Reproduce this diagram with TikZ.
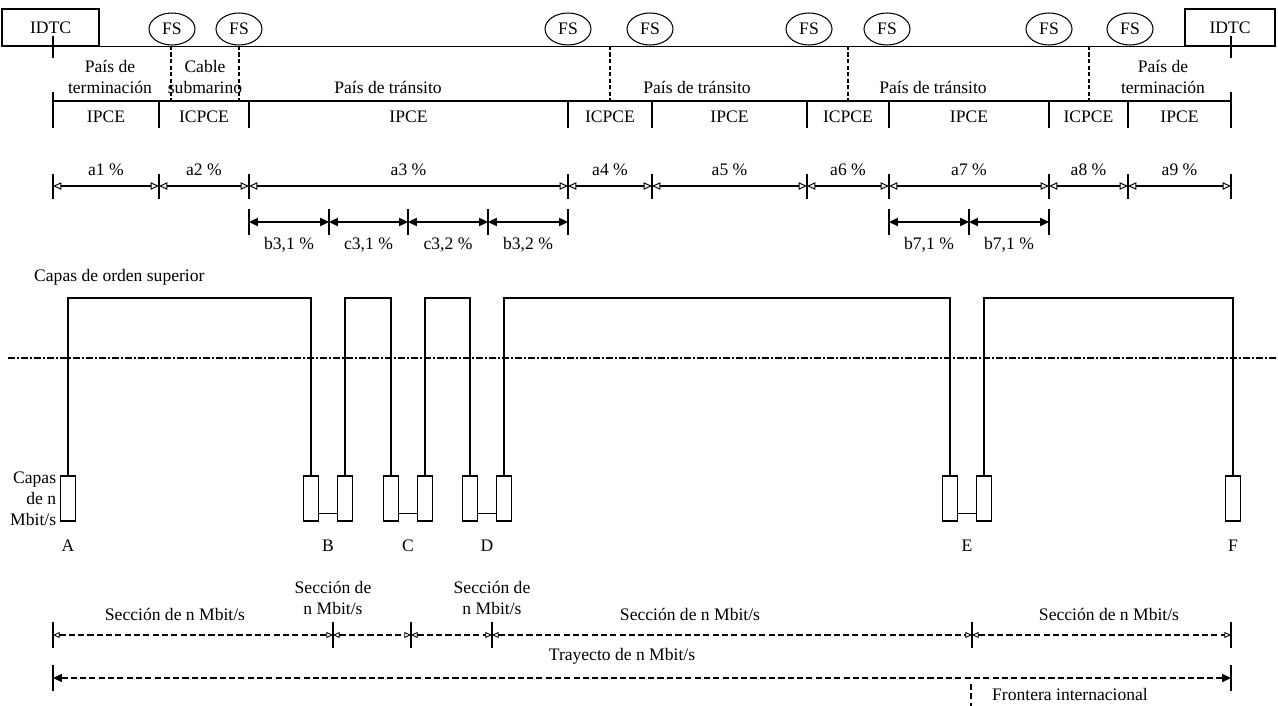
\documentclass[tikz,border=0pt]{standalone}
\usepackage{fontspec}
\setmainfont{Liberation Serif}
\usetikzlibrary{arrows.meta,positioning,shapes.geometric,calc}

\begin{document}
\begin{tikzpicture}[
    x=0.02cm, y=-0.02cm,
    font=\fontsize{10}{12}\selectfont,
    heavy/.style={line width=1.1pt},
    wire/.style={line width=0.6pt},
    box/.style={draw, line width=0.6pt, inner sep=0pt},
    fs/.style={draw, ellipse, line width=0.6pt, minimum width=0.92cm, minimum height=0.64cm, inner sep=0pt},
    card/.style={draw, line width=0.6pt, minimum width=0.3cm, minimum height=0.9cm, inner sep=0pt},
    border/.style={line width=1pt, dash pattern=on 2.5pt off 1.2pt},
    layer/.style={line width=1pt, dash pattern=on 4pt off 1.2pt on 1pt off 1.2pt},
    share/.style={heavy, {Triangle[open, length=4.8pt, width=4.2pt, line width=0.55pt]}-{Triangle[open, length=4.8pt, width=4.2pt, line width=0.55pt]}},
    part/.style={heavy, {Triangle[length=5pt, width=4.5pt]}-{Triangle[length=5pt, width=4.5pt]}},
    section/.style={line width=0.9pt, dash pattern=on 3.5pt off 1.8pt, {Triangle[open, length=3.8pt, width=3.4pt, line width=0.5pt]}-{Triangle[open, length=3.8pt, width=3.4pt, line width=0.5pt]}},
    trail/.style={line width=0.9pt, dash pattern=on 3.5pt off 1.8pt, {Triangle[length=5pt, width=4.5pt]}-{Triangle[length=5pt, width=4.5pt]}}
]
\useasboundingbox (0,0) rectangle (1278,706);

% top frame
\node[box, minimum width=1.94cm, minimum height=0.74cm] (idtcl) at (50.5,27.5) {IDTC};
\node[box, minimum width=1.8cm, minimum height=0.74cm] (idtcr) at (1230,27.5) {IDTC};
\draw[heavy] (idtcl.south east) -- (idtcr.south west);
\draw[heavy] (53,36) -- (53,58);
\draw[heavy] (1231,36) -- (1231,58);
\node[fs] (fs1) at (172,29) {FS};
\node[fs] (fs2) at (239,29) {FS};
\node[fs] (fs3) at (568,29) {FS};
\node[fs] (fs4) at (650,29) {FS};
\node[fs] (fs5) at (809,29) {FS};
\node[fs] (fs6) at (887,29) {FS};
\node[fs] (fs7) at (1049,29) {FS};
\node[fs] (fs8) at (1130,29) {FS};
\foreach \x in {171,239,610,848,1089} \draw[border] (\x,46) -- (\x,101);

\node[align=center] (term1) at (110,77) {País de\\terminación};
\node[align=center] (cable) at (205,77) {Cable\\submarino};
\node (trans1) at (388,87) {País de tránsito};
\node (trans2) at (697,87) {País de tránsito};
\node (trans3) at (933,87) {País de tránsito};
\node[align=center] (term2) at (1163,77) {País de\\terminación};

% operator row
\draw[heavy] (53,101) -- (1231,101);
\draw[heavy] (53,92) -- (53,128);
\draw[heavy] (1231,92) -- (1231,128);
\foreach \x in {159,249,568,652,807,889,1049,1128} \draw[heavy] (\x,101) -- (\x,128);
\node (op1) at (106,117) {IPCE};
\node (op2) at (204,117) {ICPCE};
\node (op3) at (408.5,117) {IPCE};
\node (op4) at (610,117) {ICPCE};
\node (op5) at (729.5,117) {IPCE};
\node (op6) at (848,117) {ICPCE};
\node (op7) at (969,117) {IPCE};
\node (op8) at (1088.5,117) {ICPCE};
\node (op9) at (1179.5,117) {IPCE};

% allocations
\foreach \x [count=\i] in {53,159,249,568,652,807,889,1049,1128,1231} {
  \coordinate (a\i) at (\x,186);
  \draw[heavy] (\x,174) -- (\x,199);
}
\draw[share] (a1) -- node[above=2pt] {a1 \%} (a2);
\draw[share] (a2) -- node[above=2pt] {a2 \%} (a3);
\draw[share] (a3) -- node[above=2pt] {a3 \%} (a4);
\draw[share] (a4) -- node[above=2pt] {a4 \%} (a5);
\draw[share] (a5) -- node[above=2pt] {a5 \%} (a6);
\draw[share] (a6) -- node[above=2pt] {a6 \%} (a7);
\draw[share] (a7) -- node[above=2pt] {a7 \%} (a8);
\draw[share] (a8) -- node[above=2pt] {a8 \%} (a9);
\draw[share] (a9) -- node[above=2pt] {a9 \%} (a10);

\foreach \x [count=\i] in {249,329,408,488,568,889,969,1049} {
  \coordinate (b\i) at (\x,222);
  \draw[heavy] (\x,209) -- (\x,235);
}
\draw[part] (b1) -- node[below=5pt] {b3,1 \%} (b2);
\draw[part] (b2) -- node[below=5pt] {c3,1 \%} (b3);
\draw[part] (b3) -- node[below=5pt] {c3,2 \%} (b4);
\draw[part] (b4) -- node[below=5pt] {b3,2 \%} (b5);
\draw[part] (b6) -- node[below=5pt] {b7,1 \%} (b7);
\draw[part] (b7) -- node[below=5pt] {b7,1 \%} (b8);

% layers
\node[anchor=west] (upper) at (28,277) {Capas de orden superior};
\coordinate (top) at (0,298);
\draw[layer] (8,358) -- (1278,358);

\node[card] (ca) at (68,498.5) {};
\node[card] (cb1) at (311,498.5) {};
\node[card] (cb2) at (345,498.5) {};
\node[card] (cc1) at (391,498.5) {};
\node[card] (cc2) at (425,498.5) {};
\node[card] (cd1) at (470,498.5) {};
\node[card] (cd2) at (504,498.5) {};
\node[card] (ce1) at (950,498.5) {};
\node[card] (ce2) at (984,498.5) {};
\node[card] (cf) at (1233,498.5) {};

\draw[wire] (ca.north) |- (cb1.north |- top) -- (cb1.north);
\draw[wire] (cb2.north) |- (cc1.north |- top) -- (cc1.north);
\draw[wire] (cc2.north) |- (cd1.north |- top) -- (cd1.north);
\draw[wire] (cd2.north) |- (ce1.north |- top) -- (ce1.north);
\draw[wire] (ce2.north) |- (cf.north |- top) -- (cf.north);

\draw[wire] ([yshift=4.5pt]cb1.south east) -- ([yshift=4.5pt]cb2.south west);
\draw[wire] ([yshift=4.5pt]cc1.south east) -- ([yshift=4.5pt]cc2.south west);
\draw[wire] ([yshift=4.5pt]cd1.south east) -- ([yshift=4.5pt]cd2.south west);
\draw[wire] ([yshift=4.5pt]ce1.south east) -- ([yshift=4.5pt]ce2.south west);

\node[left=1pt of ca, align=right, inner sep=1pt] (lower) {Capas\\de n\\Mbit/s};

\coordinate (mb) at ($(cb1.south)!0.5!(cb2.south)$);
\coordinate (mc) at ($(cc1.south)!0.5!(cc2.south)$);
\coordinate (md) at ($(cd1.south)!0.5!(cd2.south)$);
\coordinate (me) at ($(ce1.south)!0.5!(ce2.south)$);
\node[below=7pt of ca] (la) {A};
\node[below=7pt of mb] (lb) {B};
\node[below=7pt of mc] (lc) {C};
\node[below=7pt of md] (ld) {D};
\node[below=7pt of me] (le) {E};
\node[below=7pt of cf] (lf) {F};

% sections and path
\foreach \x [count=\i] in {53,333,411,492,972,1231} {
  \coordinate (s\i) at (\x,635);
  \draw[heavy] (\x,622) -- (\x,648);
}
\draw[section] (s1) -- (s2);
\draw[section] (s2) -- (s3);
\draw[section] (s3) -- (s4);
\draw[section] (s4) -- (s5);
\draw[section] (s5) -- (s6);
\node (sec1) at (175,614) {Sección de n Mbit/s};
\node[align=center] (sec2) at (333,598) {Sección de\\n Mbit/s};
\node[align=center] (sec3) at (492,598) {Sección de\\n Mbit/s};
\node (sec4) at (690,614) {Sección de n Mbit/s};
\node (sec5) at (1109,614) {Sección de n Mbit/s};

\coordinate (t1) at (53,678);
\coordinate (t2) at (1231,678);
\draw[heavy] (53,665) -- (53,691);
\draw[heavy] (1231,665) -- (1231,691);
\draw[trail] (t1) -- (t2);
\node (tray) at (622,656) {Trayecto de n Mbit/s};

\draw[line width=0.9pt, dash pattern=on 3.5pt off 1.8pt] (971,684) -- (971,706);
\node[anchor=west] (front) at (986,694) {Frontera internacional};
\end{tikzpicture}
\end{document}
